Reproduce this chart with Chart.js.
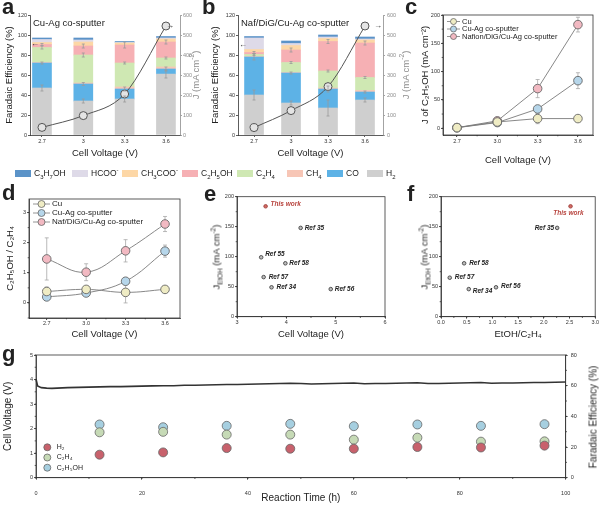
<!DOCTYPE html>
<html>
<head>
<meta charset="utf-8">
<title>Cu-Ag co-sputter performance</title>
<script src="https://cdn.jsdelivr.net/npm/chart.js@4.4.1/dist/chart.umd.min.js"></script>
<style>
  html, body { margin: 0; padding: 0; background: #fff; }
  #fig { position: relative; width: 600px; height: 506px; overflow: hidden; font-family: "Liberation Sans", Arial, sans-serif; color: #222; }
  #fig canvas { position: absolute; }
  .tag { position: absolute; font-weight: bold; font-size: 22px; line-height: 22px; }
  .note { position: absolute; white-space: nowrap; font-size: 9.5px; line-height: 11px; }
  .vt { position: absolute; white-space: nowrap; transform: translate(-50%, -50%) rotate(-90deg); font-size: 9.5px; line-height: 11px; }
  .vt sub, .vt sup, .key sub, .key sup { font-size: 0.7em; line-height: 0; }
  .key { position: absolute; top: 168px; height: 11px; padding-left: 19px; font-size: 8.5px; line-height: 11px; white-space: nowrap; }
  .key i { position: absolute; left: 0; top: 2px; width: 16px; height: 7px; }
  .arrow { position: absolute; font-size: 8px; line-height: 8px; color: #333; }
</style>
</head>
<body>
<div id="fig">
  <canvas id="chartA" width="200" height="165" style="left:0;top:0"></canvas>
  <canvas id="chartB" width="200" height="165" style="left:200px;top:0"></canvas>
  <canvas id="chartC" width="200" height="168" style="left:400px;top:0"></canvas>
  <canvas id="chartD" width="200" height="150" style="left:0;top:190px"></canvas>
  <canvas id="chartE" width="200" height="150" style="left:200px;top:190px"></canvas>
  <canvas id="chartF" width="200" height="150" style="left:400px;top:190px"></canvas>
  <canvas id="chartG" width="600" height="166" style="left:0;top:340px"></canvas>

  <div class="tag" style="left:2px;top:-4px">a</div>
  <div class="tag" style="left:202px;top:-4px">b</div>
  <div class="tag" style="left:405px;top:-4px">c</div>
  <div class="tag" style="left:2px;top:182px">d</div>
  <div class="tag" style="left:204px;top:183px">e</div>
  <div class="tag" style="left:407px;top:183px">f</div>
  <div class="tag" style="left:2px;top:343px">g</div>

  <div class="note" style="left:33px;top:17px">Cu-Ag co-sputter</div>
  <div class="note" style="left:241px;top:17px">Naf/DiG/Cu-Ag co-sputter</div>
  <div class="arrow" style="left:31px;top:40px">&larr;</div>
  <div class="arrow" style="left:166px;top:22px">&rarr;</div>
  <div class="arrow" style="left:239px;top:41px">&larr;</div>
  <div class="arrow" style="left:374px;top:22px">&rarr;</div>

  <div class="vt" style="left:195px;top:75px;color:#8c8c8c">J (mA cm<sup>-2</sup>)</div>
  <div class="vt" style="left:405px;top:75px;color:#8c8c8c">J (mA cm<sup>-2</sup>)</div>
  <div class="vt" style="left:216px;top:257px">J<sub>EtOH</sub> (mA cm<sup>-2</sup>)</div>
  <div class="vt" style="left:424px;top:257px">J<sub>EtOH</sub> (mA cm<sup>-2</sup>)</div>
  <div class="vt" style="left:593px;top:417px;font-size:10px">Faradaic Efficiency (%)</div>

  <div class="key" style="left:15px"><i style="background:#5b93c8"></i>C<sub>3</sub>H<sub>7</sub>OH</div>
  <div class="key" style="left:72px"><i style="background:#dedae8"></i>HCOO<sup>-</sup></div>
  <div class="key" style="left:122px"><i style="background:#fdd7a6"></i>CH<sub>3</sub>COO<sup>-</sup></div>
  <div class="key" style="left:182px"><i style="background:#f6b0b4"></i>C<sub>2</sub>H<sub>5</sub>OH</div>
  <div class="key" style="left:237px"><i style="background:#cfe8b3"></i>C<sub>2</sub>H<sub>4</sub></div>
  <div class="key" style="left:287px"><i style="background:#f7c6b6"></i>CH<sub>4</sub></div>
  <div class="key" style="left:327px"><i style="background:#5db2e6"></i>CO</div>
  <div class="key" style="left:367px"><i style="background:#cfcfcf"></i>H<sub>2</sub></div>
</div>

<script>
// ---------- data ----------
const voltages = [2.7, 3.0, 3.3, 3.6];
const voltageTicksAB = ['2.7', '3', '3.3', '3.6'];
const voltageTicksCD = ['2.7', '3.0', '3.3', '3.6'];
const products = ['H₂', 'CO', 'CH₄', 'C₂H₄', 'C₂H₅OH', 'CH₃COO⁻', 'HCOO⁻', 'C₃H₇OH'];

// a: Cu-Ag co-sputter, FE (%) per product, stacked bottom -> top
const feA_H2 = [47, 34, 36, 61];
const feA_CO = [25, 17, 10, 5];
const feA_CH4 = [0.5, 1, 2, 2];
const feA_C2H4 = [15, 28, 24, 9];
const feA_C2H5OH = [3, 9, 18, 16];
const feA_CH3COO = [2, 4, 2, 3];
const feA_HCOO = [3, 2, 0.5, 1];
const feA_C3H7OH = [1.5, 2, 1, 1.5];
const jA = [38, 97, 205, 545];
const errA_H2 = [3, 2, 3, 4];
const errA_CO = [1, 1.5, 2, 2];
const errA_C2H4 = [1.5, 2, 1, 1];
const errA_C2H5OH = [1, 2, 3, 2];

// b: Naf/DiG/Cu-Ag co-sputter
const feB_H2 = [40, 32, 27, 35];
const feB_CO = [38, 30, 19, 8];
const feB_CH4 = [0.5, 0.5, 1, 1.5];
const feB_C2H4 = [2, 10, 17, 13];
const feB_C2H5OH = [2, 12.5, 29.5, 34.5];
const feB_CH3COO = [3, 4.5, 3, 3];
const feB_HCOO = [11.5, 2, 1.5, 1];
const feB_C3H7OH = [1.5, 2.5, 2, 2];
const jB = [37, 122, 242, 545];
const errB_H2 = [5, 2, 8, 2];
const errB_CO = [3, 1, 3, 1];
const errB_C2H4 = [1, 1, 1, 1];
const errB_C2H5OH = [1, 2, 2, 2];

// c: partial current density of ethanol
const jEtOH_Cu = [1, 11, 17, 17];
const jEtOH_CuAg = [1, 10, 34, 84];
const jEtOH_Naf = [1, 13, 70, 183];
const errJ_Cu = [1, 2, 9, 2];
const errJ_CuAg = [1, 2, 5, 14];
const errJ_Naf = [1, 3, 16, 13];

// d: C2H5OH / C2H4 ratio
const ratio_Cu = [0.38, 0.45, 0.35, 0.45];
const ratio_CuAg = [0.2, 0.33, 0.72, 1.72];
const ratio_Naf = [1.46, 1.02, 1.73, 2.62];
const errR_Cu = [0.15, 0.08, 0.35, 0.05];
const errR_CuAg = [0.05, 0.05, 0.1, 0.2];
const errR_Naf = [0.7, 0.28, 0.37, 0.25];

// e: J_EtOH vs cell voltage (literature)
const refE = ['This work', 'Ref 35', 'Ref 55', 'Ref 58', 'Ref 57', 'Ref 34', 'Ref 56'];
const refE_voltage = [3.58, 4.29, 3.49, 3.98, 3.54, 3.70, 4.90];
const refE_j = [184, 148, 99, 89, 66, 49, 46];

// f: J_EtOH vs EtOH/C2H4
const refF = ['This work', 'Ref 35', 'Ref 58', 'Ref 57', 'Ref 34', 'Ref 56'];
const refF_ratio = [2.52, 2.26, 0.45, 0.17, 0.54, 1.07];
const refF_j = [184, 148, 89, 65, 46, 49];

// g: stability
const gTime = [0, 0.3, 1, 2, 3, 4, 6, 8, 10, 12, 14, 16, 18, 20, 22, 24, 26, 28, 30, 32, 34, 36, 38, 40, 42, 44, 46, 48,
  50, 52, 54, 56, 58, 60, 62, 64, 66, 68, 70, 72, 74, 76, 78, 80, 82, 84, 86, 88, 90, 92, 94, 96, 98, 100];
const gVoltage = [4.02, 3.74, 3.67, 3.65, 3.64, 3.65, 3.67, 3.68, 3.69, 3.70, 3.71, 3.71, 3.72, 3.73, 3.74, 3.75, 3.75, 3.77,
  3.77, 3.78, 3.79, 3.80, 3.80, 3.81, 3.82, 3.83, 3.84, 3.85, 3.84, 3.82, 3.83, 3.84, 3.85, 3.86, 3.83, 3.84, 3.84, 3.85,
  3.86, 3.87, 3.84, 3.84, 3.85, 3.86, 3.87, 3.88, 3.85, 3.86, 3.86, 3.87, 3.88, 3.88, 3.89, 3.90];
const feTime = [12, 24, 36, 48, 60, 72, 84, 96];
const feG_H2 = [15, 16.5, 19.3, 18.9, 18.9, 20, 19.7, 20.9];
const feG_C2H4 = [29.6, 29.9, 28.1, 28.1, 24.8, 26.1, 23.5, 23.7];
const feG_C2H5OH = [34.7, 32.9, 33.8, 35.1, 33.6, 34.7, 33.8, 34.9];

// tick values
const ticksFE = [0, 20, 40, 60, 80, 100, 120];
const ticksJ = [0, 100, 200, 300, 400, 500, 600];
const ticksJEtOH = [0, 50, 100, 150, 200];
const ticksRatio = [0, 1, 2, 3];
const ticksVoltE = [3, 4, 5, 6];
const ticksRatioF = [0, 0.5, 1, 1.5, 2, 2.5, 3];
const ticksRatioFLabels = ['0.0', '0.5', '1.0', '1.5', '2.0', '2.5', '3.0'];
const ticksTime = [0, 20, 40, 60, 80, 100];
const ticksCellV = [0, 1, 2, 3, 4, 5];
const ticksFEg = [0, 20, 40, 60, 80];

// ---------- styles ----------
const productColors = ['#cfcfcf', '#5db2e6', '#f7c6b6', '#cfe8b3', '#f6b0b4', '#fdd7a6', '#dedae8', '#5b93c8'];
const cuColor = '#efecc4', cuAgColor = '#b6d6ea', nafColor = '#f2b9c2';
const FONT = '"Liberation Sans", Arial, sans-serif';

Chart.defaults.font.family = FONT;
Chart.defaults.color = '#333';
Chart.defaults.animation = false;
Chart.defaults.plugins.legend.display = false;
Chart.defaults.plugins.tooltip.enabled = false;

// ---------- plugins ----------
const frame = {
  id: 'frame',
  afterDraw(chart, args, o) {
    if (!o.show) return;
    const { ctx, chartArea: a } = chart;
    ctx.save();
    ctx.strokeStyle = '#333';
    ctx.lineWidth = 0.8;
    ctx.strokeRect(a.left, a.top, a.right - a.left, a.bottom - a.top);
    ctx.restore();
  }
};

function drawErrors(chart) {
  const ctx = chart.ctx;
  chart.data.datasets.forEach((ds, i) => {
    if (!ds.errors) return;
    const meta = chart.getDatasetMeta(i);
    const ys = chart.scales[meta.yAxisID];
    ctx.save();
    ctx.strokeStyle = ds.errorColor || '#9a9a9a';
    ctx.lineWidth = 0.8;
    meta.data.forEach((el, j) => {
      const e = ds.errors[j];
      if (!e) return;
      const d = ds.data[j];
      const top = Array.isArray(d.y) ? d.y[1] : d.y;
      const y1 = ys.getPixelForValue(top - e), y2 = ys.getPixelForValue(top + e);
      const cap = ds.errorCap || 2;
      ctx.beginPath();
      ctx.moveTo(el.x, y1); ctx.lineTo(el.x, y2);
      ctx.moveTo(el.x - cap, y1); ctx.lineTo(el.x + cap, y1);
      ctx.moveTo(el.x - cap, y2); ctx.lineTo(el.x + cap, y2);
      ctx.stroke();
    });
    ctx.restore();
  });
}

const errorBars = {
  id: 'errorBars',
  beforeDatasetsDraw(chart, args, o) { if (o.layer === 'before') drawErrors(chart); },
  afterDatasetsDraw(chart, args, o) { if (o.layer === 'after') drawErrors(chart); }
};

const innerLegend = {
  id: 'innerLegend',
  afterDatasetsDraw(chart, args, o) {
    if (!o.show) return;
    const { ctx, chartArea } = chart;
    let y = chartArea.top + o.y;
    ctx.save();
    ctx.font = `${o.fontSize}px ${FONT}`;
    ctx.textBaseline = 'middle';
    chart.data.datasets.forEach(ds => {
      if (ds.noLegend) return;
      const x = chartArea.left + o.x;
      let cx = x + o.r, tx = x + 2 * o.r + o.gap;
      if (o.lineLen) {
        ctx.strokeStyle = ds.borderColor;
        ctx.lineWidth = 0.8;
        ctx.beginPath(); ctx.moveTo(x, y); ctx.lineTo(x + o.lineLen, y); ctx.stroke();
        cx = x + o.lineLen / 2;
        tx = x + o.lineLen + o.gap;
      }
      ctx.beginPath();
      ctx.arc(cx, y, o.r, 0, Math.PI * 2);
      ctx.fillStyle = ds.pointBackgroundColor;
      ctx.fill();
      ctx.strokeStyle = ds.pointBorderColor;
      ctx.lineWidth = 0.8;
      ctx.stroke();
      ctx.fillStyle = '#222';
      ctx.fillText(ds.label, tx, y);
      y += o.dy;
    });
    ctx.restore();
  }
};

const pointLabels = {
  id: 'pointLabels',
  afterDatasetsDraw(chart, args, o) {
    if (!o.show) return;
    const ctx = chart.ctx;
    chart.data.datasets.forEach((ds, i) => {
      if (!ds.pointText) return;
      chart.getDatasetMeta(i).data.forEach((el, j) => {
        const t = ds.pointText[j];
        const p = Object.assign({ dx: 4, dy: 0, align: 'left' }, (o.place || {})[t]);
        ctx.save();
        ctx.font = `italic bold 6.5px ${FONT}`;
        ctx.fillStyle = t === 'This work' ? '#b8453f' : '#222';
        ctx.textAlign = p.align;
        ctx.textBaseline = 'middle';
        ctx.fillText(t, el.x + p.dx, el.y + p.dy);
        ctx.restore();
      });
    });
  }
};

const minorTicks = {
  id: 'minorTicks',
  afterDraw(chart, args, o) {
    if (!o.list) return;
    const ctx = chart.ctx;
    ctx.save();
    ctx.lineWidth = 0.8;
    o.list.forEach(({ id, step, len = 1.3 }) => {
      const s = chart.scales[id];
      ctx.strokeStyle = s.options.border.color;
      const first = Math.ceil(s.min / step - 1e-6);
      const last = Math.floor(s.max / step + 1e-6);
      for (let k = first; k <= last; k++) {
        const p = s.getPixelForValue(k * step);
        ctx.beginPath();
        if (s.isHorizontal()) { ctx.moveTo(p, s.top); ctx.lineTo(p, s.top + len); }
        else if (s.position === 'left') { ctx.moveTo(s.right, p); ctx.lineTo(s.right - len, p); }
        else { ctx.moveTo(s.left, p); ctx.lineTo(s.left + len, p); }
        ctx.stroke();
      }
    });
    ctx.restore();
  }
};

Chart.register(frame, errorBars, innerLegend, pointLabels, minorTicks);

// ---------- helpers ----------
function fitTo(size) {
  return s => {
    if (s.isHorizontal()) s.height = size; else s.width = size;
    s.paddingLeft = s.paddingRight = s.paddingTop = s.paddingBottom = 0;
  };
}

function axis(o) {
  const col = o.color || '#333';
  return {
    type: 'linear',
    position: o.position,
    min: o.min,
    max: o.max,
    offset: false,
    afterFit: fitTo(o.size),
    afterBuildTicks: s => { s.ticks = o.ticks.map(v => ({ value: v })); },
    grid: { display: true, drawOnChartArea: false, drawTicks: true, tickLength: 2, tickWidth: 0.8, tickColor: col, offset: false },
    border: { display: true, color: col, width: 0.8 },
    ticks: {
      autoSkip: false, maxRotation: 0, padding: o.pad ?? 1, color: col, font: { size: 5.5 },
      callback: (v, i) => (o.labels ? o.labels[i] : String(v))
    },
    title: o.title
      ? { display: true, text: o.title, color: '#222', font: { size: o.titleSize || 9.5 }, padding: { top: o.tpad || 0, bottom: o.tpad || 0 } }
      : { display: false }
  };
}

function stackedBars(series, errs) {
  const base = voltages.map(() => 0);
  return series.map((vals, k) => {
    const data = voltages.map((v, i) => {
      const y = [base[i], base[i] + vals[i]];
      base[i] += vals[i];
      return { x: v, y };
    });
    return {
      type: 'bar', label: products[k], data, backgroundColor: productColors[k],
      barThickness: 19, grouped: false, errors: errs[k], errorCap: 1.5, order: 2
    };
  });
}

function jLine(vals) {
  return {
    type: 'line', label: 'J', data: voltages.map((v, i) => ({ x: v, y: vals[i] })), yAxisID: 'y1',
    borderColor: '#555', borderWidth: 1, pointRadius: 4, pointBackgroundColor: '#e4e4e4',
    pointBorderColor: '#555', pointBorderWidth: 1, cubicInterpolationMode: 'monotone', clip: false, order: 0
  };
}

function barPanel(id, series, errs, jVals, p) {
  new Chart(document.getElementById(id), {
    type: 'bar',
    data: { datasets: [jLine(jVals)].concat(stackedBars(series, errs)) },
    options: {
      responsive: false, devicePixelRatio: 1,
      layout: { padding: { top: 15, left: 0, right: 0, bottom: 0 } },
      scales: {
        x: axis({ position: 'bottom', min: p.xMin, max: p.xMax, size: 30, ticks: voltages, labels: voltageTicksAB,
          title: 'Cell Voltage (V)', tpad: 6.3 }),
        y: axis({ position: 'left', min: 0, max: 120, size: p.leftW, ticks: ticksFE, title: 'Faradaic Efficiency (%)', tpad: p.titlePad }),
        y1: axis({ position: 'right', min: 0, max: 600, size: p.rightW, ticks: ticksJ, color: '#8c8c8c', pad: p.rightPad })
      },
      plugins: { errorBars: { layer: 'after' } }
    }
  });
}

function seriesLine(label, vals, errs, color, tension) {
  return {
    label, data: voltages.map((v, i) => ({ x: v, y: vals[i] })), errors: errs, errorColor: '#a8a8a8',
    borderColor: '#7a7a7a', borderWidth: 0.9, tension, pointRadius: 4.3,
    pointBackgroundColor: color, backgroundColor: color, pointBorderColor: '#666', pointBorderWidth: 0.9, clip: false
  };
}

// ---------- a, b ----------
barPanel('chartA',
  [feA_H2, feA_CO, feA_CH4, feA_C2H4, feA_C2H5OH, feA_CH3COO, feA_HCOO, feA_C3H7OH],
  [errA_H2, errA_CO, null, errA_C2H4, errA_C2H5OH, null, null, null],
  jA, { xMin: 2.613, xMax: 3.702, leftW: 30, rightW: 20, titlePad: 3.8, rightPad: 1 });

barPanel('chartB',
  [feB_H2, feB_CO, feB_CH4, feB_C2H4, feB_C2H5OH, feB_CH3COO, feB_HCOO, feB_C3H7OH],
  [errB_H2, errB_CO, null, errB_C2H4, errB_C2H5OH, null, null, null],
  jB, { xMin: 2.570, xMax: 3.746, leftW: 38, rightW: 17, titlePad: 9.3, rightPad: 2 });

// ---------- c ----------
new Chart(document.getElementById('chartC'), {
  type: 'line',
  data: {
    datasets: [
      seriesLine('Cu', jEtOH_Cu, errJ_Cu, cuColor, 0),
      seriesLine('Cu-Ag co-sputter', jEtOH_CuAg, errJ_CuAg, cuAgColor, 0),
      seriesLine('Nafion/DiG/Cu-Ag co-sputter', jEtOH_Naf, errJ_Naf, nafColor, 0)
    ]
  },
  options: {
    responsive: false, devicePixelRatio: 1,
    layout: { padding: { top: 15, right: 7, left: 0, bottom: 0 } },
    scales: {
      x: axis({ position: 'bottom', min: 2.596, max: 3.712, size: 33, ticks: voltages, labels: voltageTicksCD,
        title: 'Cell Voltage (V)', tpad: 2.3 }),
      y: axis({ position: 'left', min: -12, max: 200, size: 43, ticks: ticksJEtOH, title: 'J of C₂H₅OH (mA cm⁻²)', tpad: 19.3 })
    },
    plugins: {
      frame: { show: true },
      errorBars: { layer: 'before' },
      innerLegend: { show: true, x: 4, y: 6.5, dy: 7.5, lineLen: 13, r: 3, gap: 2, fontSize: 7.5 },
      minorTicks: { list: [{ id: 'x', step: 0.15 }, { id: 'y', step: 25 }] }
    }
  }
});

// ---------- d ----------
new Chart(document.getElementById('chartD'), {
  type: 'line',
  data: {
    datasets: [
      seriesLine('Cu', ratio_Cu, errR_Cu, cuColor, 0.4),
      seriesLine('Cu-Ag co-sputter', ratio_CuAg, errR_CuAg, cuAgColor, 0.4),
      seriesLine('Naf/DiG/Cu-Ag co-sputter', ratio_Naf, errR_Naf, nafColor, 0.4)
    ]
  },
  options: {
    responsive: false, devicePixelRatio: 1,
    layout: { padding: { top: 9, right: 20, left: 0, bottom: 0 } },
    scales: {
      x: axis({ position: 'bottom', min: 2.565, max: 3.714, size: 22, ticks: voltages, labels: voltageTicksCD,
        title: 'Cell Voltage (V)', tpad: 0.3, pad: 0 }),
      y: axis({ position: 'left', min: -0.5, max: 3.45, size: 29, ticks: ticksRatio, title: 'C₂H₅OH / C₂H₄', tpad: 4.3 })
    },
    plugins: {
      frame: { show: true },
      errorBars: { layer: 'before' },
      innerLegend: { show: true, x: 4, y: 5, dy: 9, lineLen: 17, r: 3.5, gap: 2, fontSize: 8 },
      minorTicks: { list: [{ id: 'x', step: 0.15 }, { id: 'y', step: 0.5 }] }
    }
  }
});

// ---------- e, f ----------
function refDataset(names, xs, ys) {
  const fill = names.map(n => (n === 'This work' ? '#d06a64' : '#bdbdbd'));
  const edge = names.map(n => (n === 'This work' ? '#9b3a35' : '#333'));
  return {
    label: 'refs', noLegend: true, pointText: names,
    data: xs.map((x, i) => ({ x, y: ys[i] })),
    pointRadius: 1.8, pointBackgroundColor: fill, backgroundColor: fill,
    pointBorderColor: edge, borderColor: edge, pointBorderWidth: 0.8, clip: false
  };
}

new Chart(document.getElementById('chartE'), {
  type: 'scatter',
  data: { datasets: [refDataset(refE, refE_voltage, refE_j)] },
  options: {
    responsive: false, devicePixelRatio: 1,
    layout: { padding: { top: 6.7, right: 15, left: 0, bottom: 0 } },
    scales: {
      x: axis({ position: 'bottom', min: 3, max: 6, size: 23.3, ticks: ticksVoltE, title: 'Cell Voltage (V)', tpad: 0.3, pad: 0 }),
      y: axis({ position: 'left', min: 0, max: 200, size: 37, ticks: ticksJEtOH })
    },
    plugins: {
      frame: { show: true },
      pointLabels: { show: true, place: { 'This work': { dx: 5, dy: -2 }, 'Ref 55': { dx: 4, dy: -3 }, 'Ref 57': { dx: 5 }, 'Ref 34': { dx: 5 } } },
      minorTicks: { list: [{ id: 'x', step: 0.5 }, { id: 'y', step: 25 }] }
    }
  }
});

new Chart(document.getElementById('chartF'), {
  type: 'scatter',
  data: { datasets: [refDataset(refF, refF_ratio, refF_j)] },
  options: {
    responsive: false, devicePixelRatio: 1,
    layout: { padding: { top: 6.7, right: 2, left: 0, bottom: 0 } },
    scales: {
      x: axis({ position: 'bottom', min: 0, max: 3, size: 23.3, ticks: ticksRatioF, labels: ticksRatioFLabels,
        title: 'EtOH/C₂H₄', tpad: 0, pad: 0 }),
      y: axis({ position: 'left', min: 0, max: 200, size: 41, ticks: ticksJEtOH })
    },
    plugins: {
      frame: { show: true },
      pointLabels: { show: true, place: {
        'This work': { dx: -2, dy: 7, align: 'center' }, 'Ref 35': { dx: -3, align: 'right' },
        'Ref 58': { dx: 5 }, 'Ref 57': { dx: 5 }, 'Ref 34': { dx: 4, dy: 2.5 }, 'Ref 56': { dx: 5, dy: -1 } } },
      minorTicks: { list: [{ id: 'x', step: 0.25 }, { id: 'y', step: 25 }] }
    }
  }
});

// ---------- g ----------
function fePoints(label, vals, color) {
  return {
    label, data: feTime.map((t, i) => ({ x: t, y: vals[i] })), yAxisID: 'y1',
    pointRadius: 4.5, pointBackgroundColor: color, backgroundColor: color,
    pointBorderColor: '#666', borderColor: '#666', pointBorderWidth: 0.8, clip: false
  };
}

new Chart(document.getElementById('chartG'), {
  type: 'scatter',
  data: {
    datasets: [
      { type: 'line', label: 'Cell voltage', noLegend: true, data: gTime.map((t, i) => ({ x: t, y: gVoltage[i] })),
        yAxisID: 'y', borderColor: '#333', borderWidth: 1.6, pointRadius: 0, tension: 0, clip: false },
      fePoints('H₂', feG_H2, '#c8616c'),
      fePoints('C₂H₄', feG_C2H4, '#c6dab6'),
      fePoints('C₂H₅OH', feG_C2H5OH, '#a6cfe0')
    ]
  },
  options: {
    responsive: false, devicePixelRatio: 1,
    layout: { padding: { top: 15, right: 0, left: 0, bottom: 0 } },
    scales: {
      x: axis({ position: 'bottom', min: 0, max: 100, size: 28.3, ticks: ticksTime, title: 'Reaction Time (h)',
        titleSize: 10, tpad: 1.3, pad: 10 }),
      y: axis({ position: 'left', min: 0, max: 5, size: 36, ticks: ticksCellV, title: 'Cell Voltage (V)', titleSize: 10, tpad: 2.3 }),
      y1: axis({ position: 'right', min: 0, max: 80, size: 34.3, ticks: ticksFEg, pad: 3 })
    },
    plugins: {
      frame: { show: true },
      innerLegend: { show: true, x: 7.8, y: 92.3, dy: 10.2, lineLen: 0, r: 3.5, gap: 6, fontSize: 7 },
      minorTicks: { list: [{ id: 'x', step: 10 }, { id: 'y', step: 0.5 }, { id: 'y1', step: 10 }] }
    }
  }
});
</script>
</body>
</html>
